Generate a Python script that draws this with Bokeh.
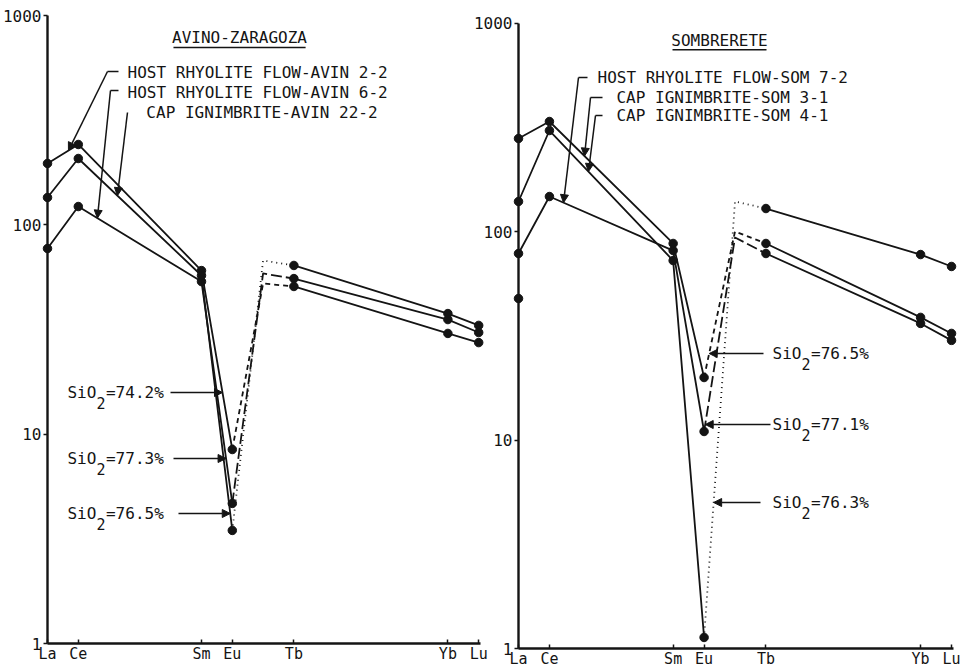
import math

from bokeh.core.properties import value
from bokeh.embed import file_html
from bokeh.models import (Arrow, FixedTicker, LinearAxis, LogAxis, LogScale,
                          NormalHead, PrintfTickFormatter, Range1d)
from bokeh.plotting import figure
from bokeh.resources import INLINE

# ---------------------------------------------------------------------------
# Chondrite-normalised REE data
# ---------------------------------------------------------------------------
elements = ["La", "Ce", "Sm", "Eu", "Tb", "Yb", "Lu"]
atomic_no = [57, 58, 62, 63, 65, 70, 71]
gd_no = 64  # Gd is interpolated between Eu and Tb

# Avino-Zaragoza
avin_2_2 = [196.6, 242.2, 60.5, 8.45, 50.8, 30.3, 27.4]
avin_6_2 = [77.1, 122.4, 53.6, 4.67, 55.4, 35.3, 30.6]
avin_22_2 = [135.2, 207.6, 57.3, 3.47, 64.0, 37.7, 33.1]
avin_gd = [52.5, 58.6, 67.6]          # 2-2, 6-2, 22-2
avin_names = ["HOST RHYOLITE FLOW-AVIN 2-2", "HOST RHYOLITE FLOW-AVIN 6-2",
              "CAP IGNIMBRITE-AVIN 22-2"]
avin_sio2 = ["74.2", "77.3", "76.5"]  # 2-2, 6-2, 22-2

# Sombrerete
som_7_2 = [78.6, 147.5, 81.2, 11.0, 78.6, 36.3, 30.1]
som_3_1 = [280.0, 337.9, 87.8, 19.97, 87.8, 38.8, 32.5]
som_4_1 = [139.6, 305.9, 72.7, 1.13, 129.2, 77.7, 68.1]
som_gd = [93.8, 100.2, 139.6]         # 7-2, 3-1, 4-1
som_la_extra = [47.8]
som_names = ["HOST RHYOLITE FLOW-SOM 7-2", "CAP IGNIMBRITE-SOM 3-1",
             "CAP IGNIMBRITE-SOM 4-1"]
som_sio2 = ["77.1", "76.5", "76.3"]   # 7-2, 3-1, 4-1

y_ticks = [1, 10, 100, 1000]

# ---------------------------------------------------------------------------
INK = "#141414"
FONT_NAME = "DejaVu Sans Mono"
FONT = value(FONT_NAME)
FS = value("16px")
LW = 1.8


def log_at(zs, vs, z):
    """Value on a log-linear polyline at atomic number z."""
    for i in range(len(zs) - 1):
        if zs[i] <= z <= zs[i + 1]:
            t = (z - zs[i]) / (zs[i + 1] - zs[i])
            a, b = math.log10(vs[i]), math.log10(vs[i + 1])
            return 10 ** (a + t * (b - a))
    raise ValueError(z)


def z_at(z0, v0, z1, v1, v):
    """Atomic number where the segment (z0,v0)-(z1,v1) reaches value v."""
    a, b = math.log10(v0), math.log10(v1)
    return z0 + (math.log10(v) - a) / (b - a) * (z1 - z0)


p = figure(width=962, height=671, output_backend="svg", toolbar_location=None,
           x_range=Range1d(55.474, 86.708), y_range=Range1d(0.7349, 1180.7),
           y_axis_type="log", x_axis_location=None, y_axis_location=None,
           min_border=0, min_border_left=0, min_border_right=0,
           min_border_top=0, min_border_bottom=0,
           outline_line_color=None, background_fill_color="white",
           border_fill_color="white")
p.extra_x_ranges = {"som": Range1d(40.2525, 71.355)}
p.extra_y_ranges = {"som": Range1d(0.7756, 1286.6)}
p.extra_y_scales = {"som": LogScale()}


def add_axes(kw):
    xa = LinearAxis(fixed_location=1, bounds=(57, 71.05),
                    ticker=FixedTicker(ticks=atomic_no),
                    major_label_overrides={z: e for z, e in zip(atomic_no, elements)},
                    **kw)
    xa.major_tick_in = 4
    xa.major_tick_out = 0
    xa.major_label_standoff = 1
    xa.major_label_text_font_size = "15px"
    ya = LogAxis(fixed_location=57, bounds=(1, 1000),
                 ticker=FixedTicker(ticks=y_ticks),
                 formatter=PrintfTickFormatter(format="%d"), **kw)
    ya.major_tick_in = 0
    ya.major_tick_out = 4
    ya.major_label_standoff = 2
    ya.major_label_text_font_size = "16px"
    for ax in (xa, ya):
        ax.axis_line_width = 2.4
        ax.axis_line_color = INK
        ax.major_tick_line_width = 1.5
        ax.major_tick_line_color = INK
        ax.minor_tick_line_color = None
        ax.major_label_text_font = FONT_NAME
        ax.major_label_text_color = INK
    p.add_layout(xa, "below")
    p.add_layout(ya, "left")


def draw_series(vals, gd, dash, kw):
    p.line(atomic_no[:4], vals[:4], line_width=LW, line_color=INK, **kw)
    p.line([63, gd_no, 65], [vals[3], gd, vals[4]], line_width=LW,
           line_color=INK, line_dash=dash, **kw)
    p.line(atomic_no[4:], vals[4:], line_width=LW, line_color=INK, **kw)
    p.scatter(atomic_no, vals, size=8.5, color=INK, **kw)


def leader(kw, text_z, text_v, text, start_z, start_v, tip_z, tip_v, hook_z=None):
    p.text([text_z], [text_v], text=[text], text_font=FONT, text_font_size=FS,
           text_color=INK, text_align="left", text_baseline="middle", **kw)
    if hook_z is not None:
        p.segment([start_z], [start_v], [hook_z], [start_v], line_width=1.5,
                  line_color=INK, **kw)
    p.add_layout(Arrow(x_start=start_z, y_start=start_v, x_end=tip_z, y_end=tip_v,
                       line_width=1.5, line_color=INK,
                       end=NormalHead(size=8, fill_color=INK, line_color=INK),
                       **kw))


def sio2_label(kw, text_z, v, pct, start_z, tip_z):
    common = dict(text_font=FONT, text_color=INK, text_align="left",
                  text_baseline="middle", **kw)
    p.text([text_z], [v], text=["SiO"], text_font_size=FS, **common)
    p.text([text_z], [v], text=["2"], text_font_size=value("15px"),
           x_offset=28.9, y_offset=10, **common)
    p.text([text_z], [v], text=["=" + pct + "%"], text_font_size=FS,
           x_offset=38.5, **common)
    p.add_layout(Arrow(x_start=start_z, y_start=v, x_end=tip_z, y_end=v,
                       line_width=1.5, line_color=INK,
                       end=NormalHead(size=8, fill_color=INK, line_color=INK),
                       **kw))


def title(kw, z, v, text, z0, z1, v_line):
    p.text([z], [v], text=[text], text_font=FONT, text_font_size=FS,
           text_color=INK, text_align="center", text_baseline="middle", **kw)
    p.segment([z0], [v_line], [z1], [v_line], line_width=1.4, line_color=INK, **kw)


# ---------------------------------------------------------------------------
# Left panel: Avino-Zaragoza
# ---------------------------------------------------------------------------
L = {}
add_axes(L)
avin = [avin_2_2, avin_6_2, avin_22_2]
avin_dash = ["5 4", "11 4", "1 4"]
for vals, gd, dash in zip(avin, avin_gd, avin_dash):
    draw_series(vals, gd, dash, L)

title(L, 63.234, 786.0, "AVINO-ZARAGOZA", 61.09, 65.38, 704.0)

lz = atomic_no[:4]
leader(L, 59.60, 534.6, avin_names[0], 58.948, 540.6,
       57.68, log_at(lz, avin_2_2[:4], 57.68), hook_z=59.305)
leader(L, 59.60, 429.1, avin_names[1], 59.045, 438.6,
       58.62, log_at(lz, avin_6_2[:4], 58.62), hook_z=59.305)
leader(L, 60.21, 344.4, avin_names[2], 59.597, 344.4,
       59.27, log_at(lz, avin_22_2[:4], 59.27))

for vals, pct, v, zs in zip(avin, avin_sio2, [15.82, 7.654, 4.179],
                            [60.994, 61.091, 61.253]):
    tip = z_at(62, vals[2], 63, vals[3], v)
    sio2_label(L, 57.649, v, pct, zs, tip)

# ---------------------------------------------------------------------------
# Right panel: Sombrerete
# ---------------------------------------------------------------------------
R = dict(x_range_name="som", y_range_name="som")
add_axes(R)
som = [som_7_2, som_3_1, som_4_1]
som_dash = ["11 4", "5 4", "1 4"]
for vals, gd, dash in zip(som, som_gd, som_dash):
    draw_series(vals, gd, dash, R)
p.scatter([57] * len(som_la_extra), som_la_extra, size=8.5, color=INK, **R)

title(R, 63.499, 827.0, "SOMBRERETE", 61.979, 65.018, 746.3)

leader(R, 59.554, 549.5, som_names[0], 58.940, 549.5,
       58.455, log_at(lz, som_7_2[:4], 58.455), hook_z=59.231)
leader(R, 60.168, 440.5, som_names[1], 59.328, 440.5,
       59.134, log_at(lz, som_3_1[:4], 59.134), hook_z=59.716)
leader(R, 60.168, 361.0, som_names[2], 59.490, 361.0,
       59.263, log_at(lz, som_4_1[:4], 59.263), hook_z=59.716)

# SiO2 arrows point at the interpolated Eu-Gd segments
for vals, gd, pct, v, zs in zip([som_3_1, som_7_2, som_4_1],
                                [som_gd[1], som_gd[0], som_gd[2]],
                                [som_sio2[1], som_sio2[0], som_sio2[2]],
                                [26.03, 11.88, 5.018],
                                [64.921, 65.147, 64.824]):
    tip = z_at(63, vals[3], gd_no, gd, v)
    sio2_label(R, 65.212, v, pct, zs, tip)

for g in p.grid:
    g.visible = False

open("out.html", "w").write(file_html(p, INLINE))
